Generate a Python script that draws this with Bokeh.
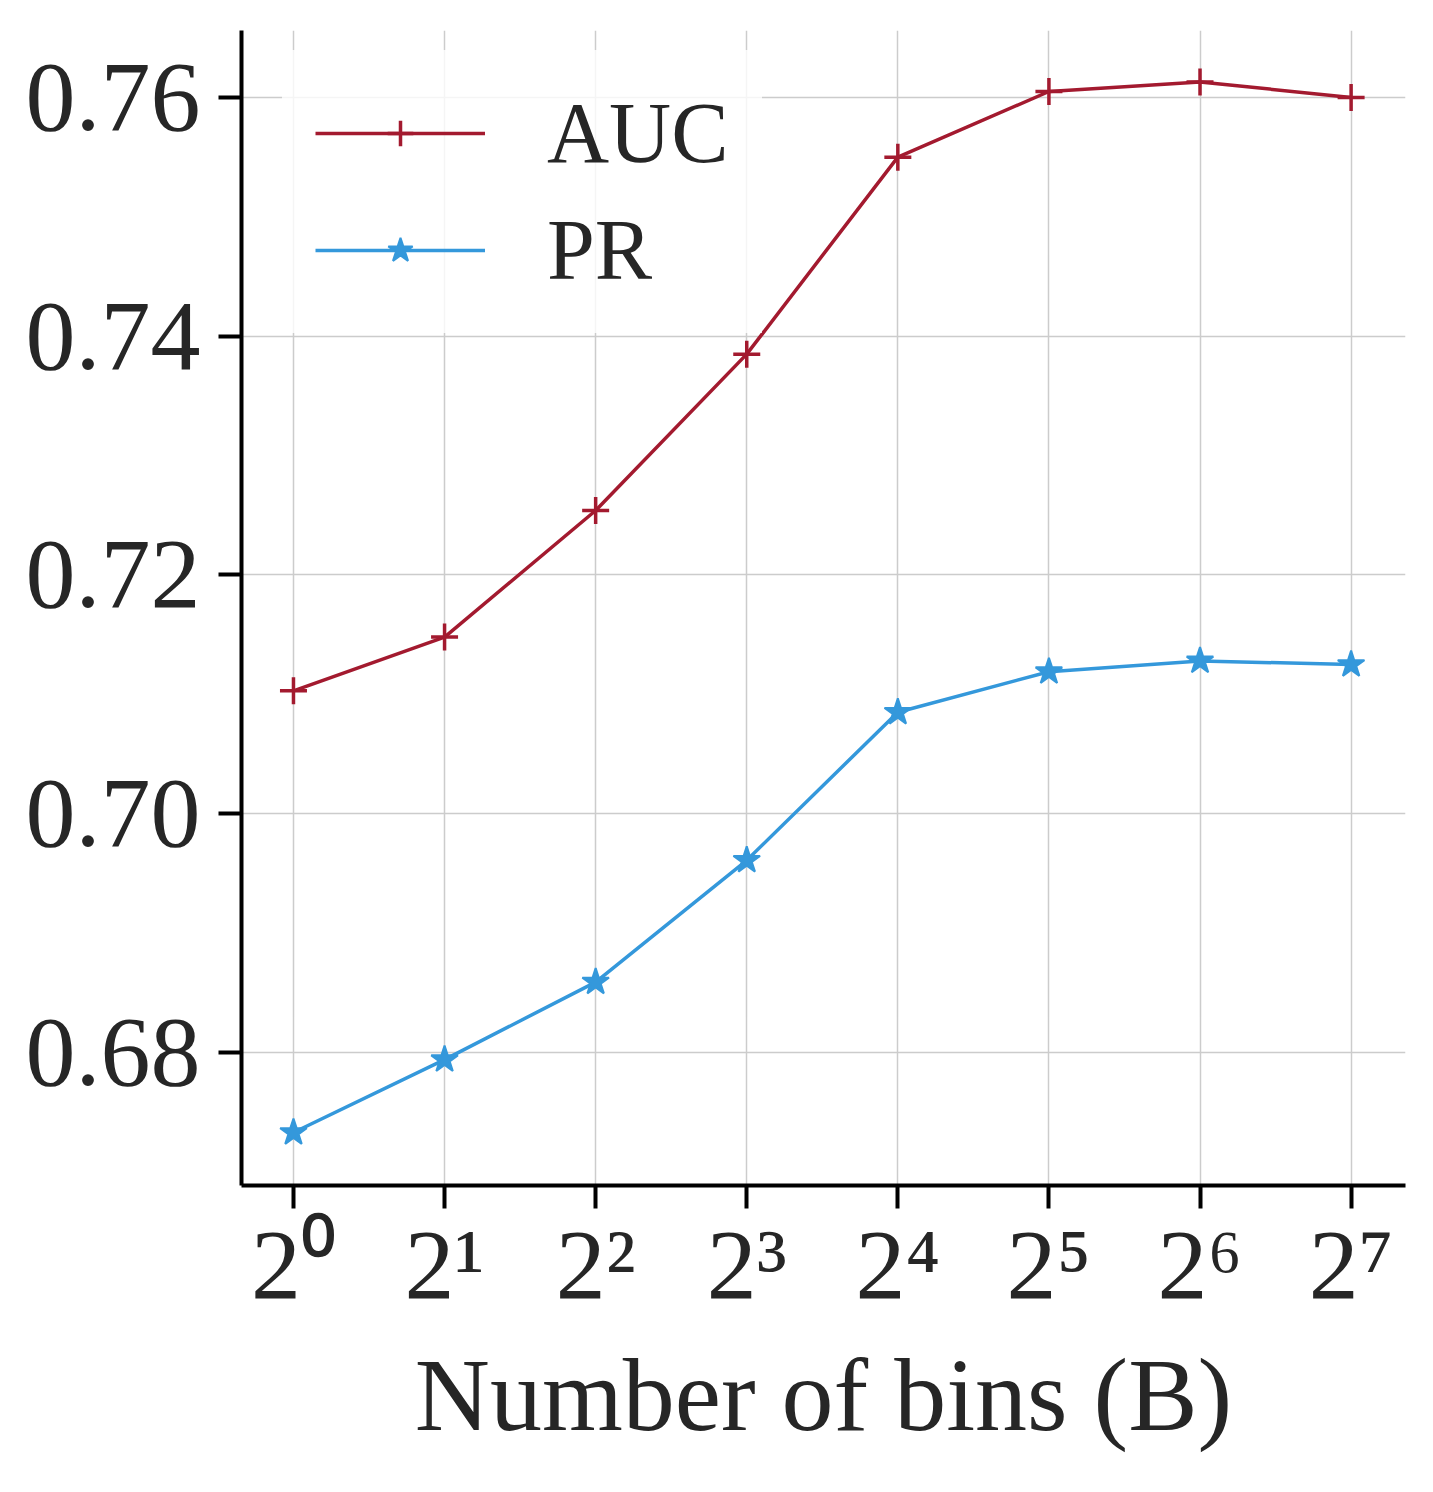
from bokeh.plotting import figure
from bokeh.models import Range1d, FixedTicker, NumeralTickFormatter, Legend, LegendItem
from bokeh.embed import file_html
from bokeh.resources import INLINE

# ---- data ----
bins = [1, 2, 4, 8, 16, 32, 64, 128]
bin_labels = ["2⁰", "2¹", "2²", "2³", "2⁴", "2⁵", "2⁶", "2⁷"]
auc = [0.7103, 0.7148, 0.7254, 0.7385, 0.7550, 0.7605, 0.7613, 0.7600]
pr = [0.6733, 0.6794, 0.6859, 0.6961, 0.7085, 0.7119, 0.7128, 0.7125]
y_ticks = [0.68, 0.70, 0.72, 0.74, 0.76]

FONT = "Liberation Serif"
TXT = "#262626"
RED = "#a31a2f"
BLUE = "#3498db"

p = figure(width=1417, height=1476, output_backend="svg", toolbar_location=None,
           x_axis_type="log",
           x_range=Range1d(2 ** -0.344, 2 ** 7.36),
           y_range=Range1d(0.66886, 0.76561),
           min_border_left=241, min_border_right=12, min_border_top=30, min_border_bottom=291)
p.outline_line_color = None
p.background_fill_color = "white"
p.border_fill_color = "white"

# grid
p.xgrid.grid_line_color = "#cccccc"
p.ygrid.grid_line_color = "#cccccc"
p.xgrid.grid_line_width = 1.5
p.ygrid.grid_line_width = 1.5

# axes
p.xaxis.ticker = FixedTicker(ticks=bins)
p.xaxis.major_label_overrides = {b: lab for b, lab in zip(bins, bin_labels)}
p.yaxis.ticker = FixedTicker(ticks=y_ticks)
p.yaxis.formatter = NumeralTickFormatter(format="0.00")
for ax in (p.xaxis, p.yaxis):
    ax.axis_line_color = "black"
    ax.axis_line_width = 4
    ax.major_tick_line_color = "black"
    ax.major_tick_line_width = 4
    ax.major_tick_out = 23
    ax.major_tick_in = 0
    ax.minor_tick_line_color = None
    ax.major_label_text_font = FONT
    ax.major_label_text_color = TXT
    ax.major_label_text_font_size = "100px"
    ax.axis_label_text_font = FONT
    ax.axis_label_text_color = TXT
    ax.axis_label_text_font_style = "normal"
p.yaxis.major_label_standoff = 18
p.xaxis.major_label_standoff = 0
p.xaxis.axis_label = "Number of bins (B)"
p.xaxis.axis_label_text_font_size = "104px"
p.xaxis.axis_label_standoff = 14

# series
r_auc_l = p.line(bins, auc, line_color=RED, line_width=3.5)
r_auc_m = p.scatter(bins, auc, marker="cross", size=27, line_color=RED, line_width=3.5)
r_pr_l = p.line(bins, pr, line_color=BLUE, line_width=3.5)
r_pr_m = p.scatter(bins, pr, marker="star", size=28, line_color=BLUE, fill_color=BLUE, line_width=2)

legend = Legend(items=[LegendItem(label="AUC", renderers=[r_auc_l, r_auc_m]),
                       LegendItem(label="PR", renderers=[r_pr_l, r_pr_m])],
                location=(41, 852), margin=0, padding=33,
                glyph_width=170, glyph_height=64, label_standoff=62, spacing=17,
                background_fill_color="white", background_fill_alpha=0.8,
                border_line_alpha=0,
                label_text_font=FONT, label_text_font_size="86px", label_text_color=TXT)
p.add_layout(legend, "center")

open("out.html", "w").write(file_html(p, INLINE))
